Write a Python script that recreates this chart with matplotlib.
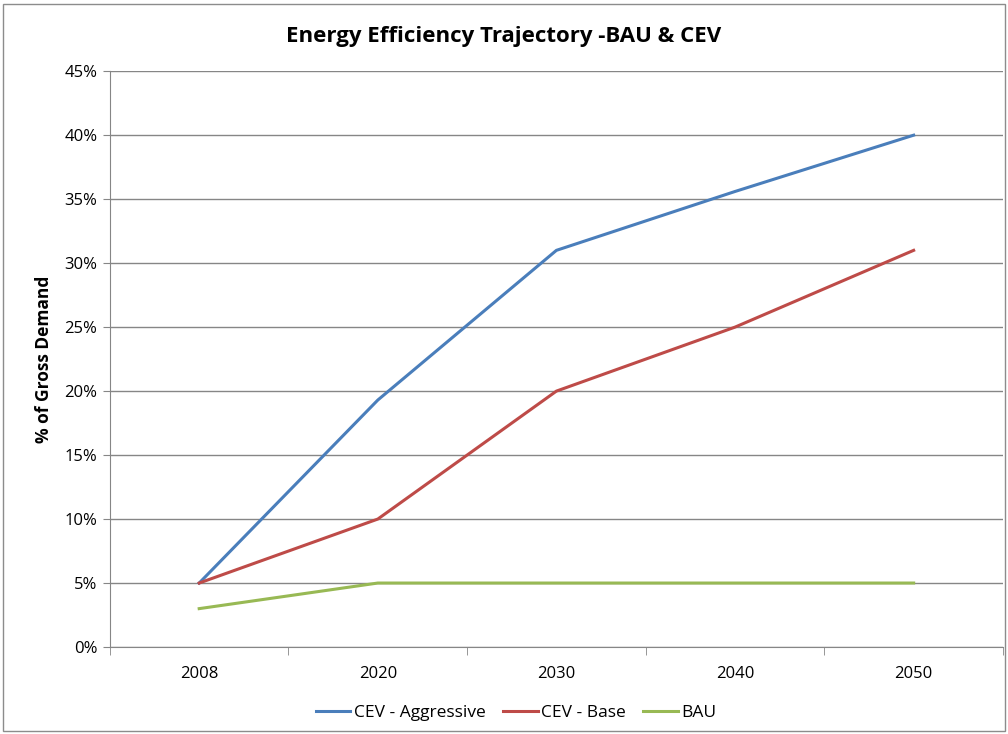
import matplotlib.pyplot as plt
from matplotlib.patches import Rectangle
from matplotlib.ticker import FixedLocator, NullFormatter

plt.rcParams['font.family'] = ['Liberation Sans Narrow', 'Open Sans', 'DejaVu Sans']

years = ['2008', '2020', '2030', '2040', '2050']
aggressive = [5, 19.3, 31, 35.6, 40]
base = [5, 10, 20, 25, 31]
bau = [3, 5, 5, 5, 5]

fig = plt.figure(figsize=(10.08, 7.34), dpi=100)
ax = fig.add_axes([0.109, 0.1185, 0.886, 0.7845])

# outer chart border
fig.patches.append(Rectangle((0.003, 0.004), 0.994, 0.99, transform=fig.transFigure,
                             fill=False, edgecolor='#8c8c8c', linewidth=1))

x = range(len(years))
ax.plot(x, aggressive, color='#4a7ebb', lw=2.2, label='CEV - Aggressive')
ax.plot(x, base, color='#be4b48', lw=2.2, label='CEV - Base')
ax.plot(x, bau, color='#98b954', lw=2.2, label='BAU')

ax.set_xlim(-0.5, len(years) - 0.5)
ax.set_ylim(0, 45)
ax.set_yticks(range(0, 46, 5))
ax.set_yticklabels([f'{v}%' for v in range(0, 46, 5)], fontsize=12)
ax.set_xticks(list(x))
ax.set_xticklabels(years, fontsize=12)
ax.tick_params(axis='x', length=0, pad=14)
ax.tick_params(axis='y', length=5, color='#868686', pad=4)
ax.xaxis.set_minor_locator(FixedLocator([i - 0.5 for i in range(len(years) + 1)]))
ax.xaxis.set_minor_formatter(NullFormatter())
ax.tick_params(axis='x', which='minor', length=6, color='#868686')

ax.grid(axis='y', color='#868686', lw=1)
ax.set_axisbelow(True)
for s in ['top', 'right']:
    ax.spines[s].set_visible(False)
for s in ['left', 'bottom']:
    ax.spines[s].set_color('#868686')

ax.set_ylabel('% of Gross Demand', fontsize=12.5, fontweight='bold', labelpad=8)
fig.suptitle('Energy Efficiency Trajectory -BAU & CEV', fontsize=16, fontweight='bold', y=0.965)

fig.legend(loc='lower center', bbox_to_anchor=(0.512, -0.003), ncol=3, frameon=False,
           fontsize=12.5, handlelength=2.0, handletextpad=0.2, columnspacing=1.0)

fig.savefig('out.png', dpi=100)
